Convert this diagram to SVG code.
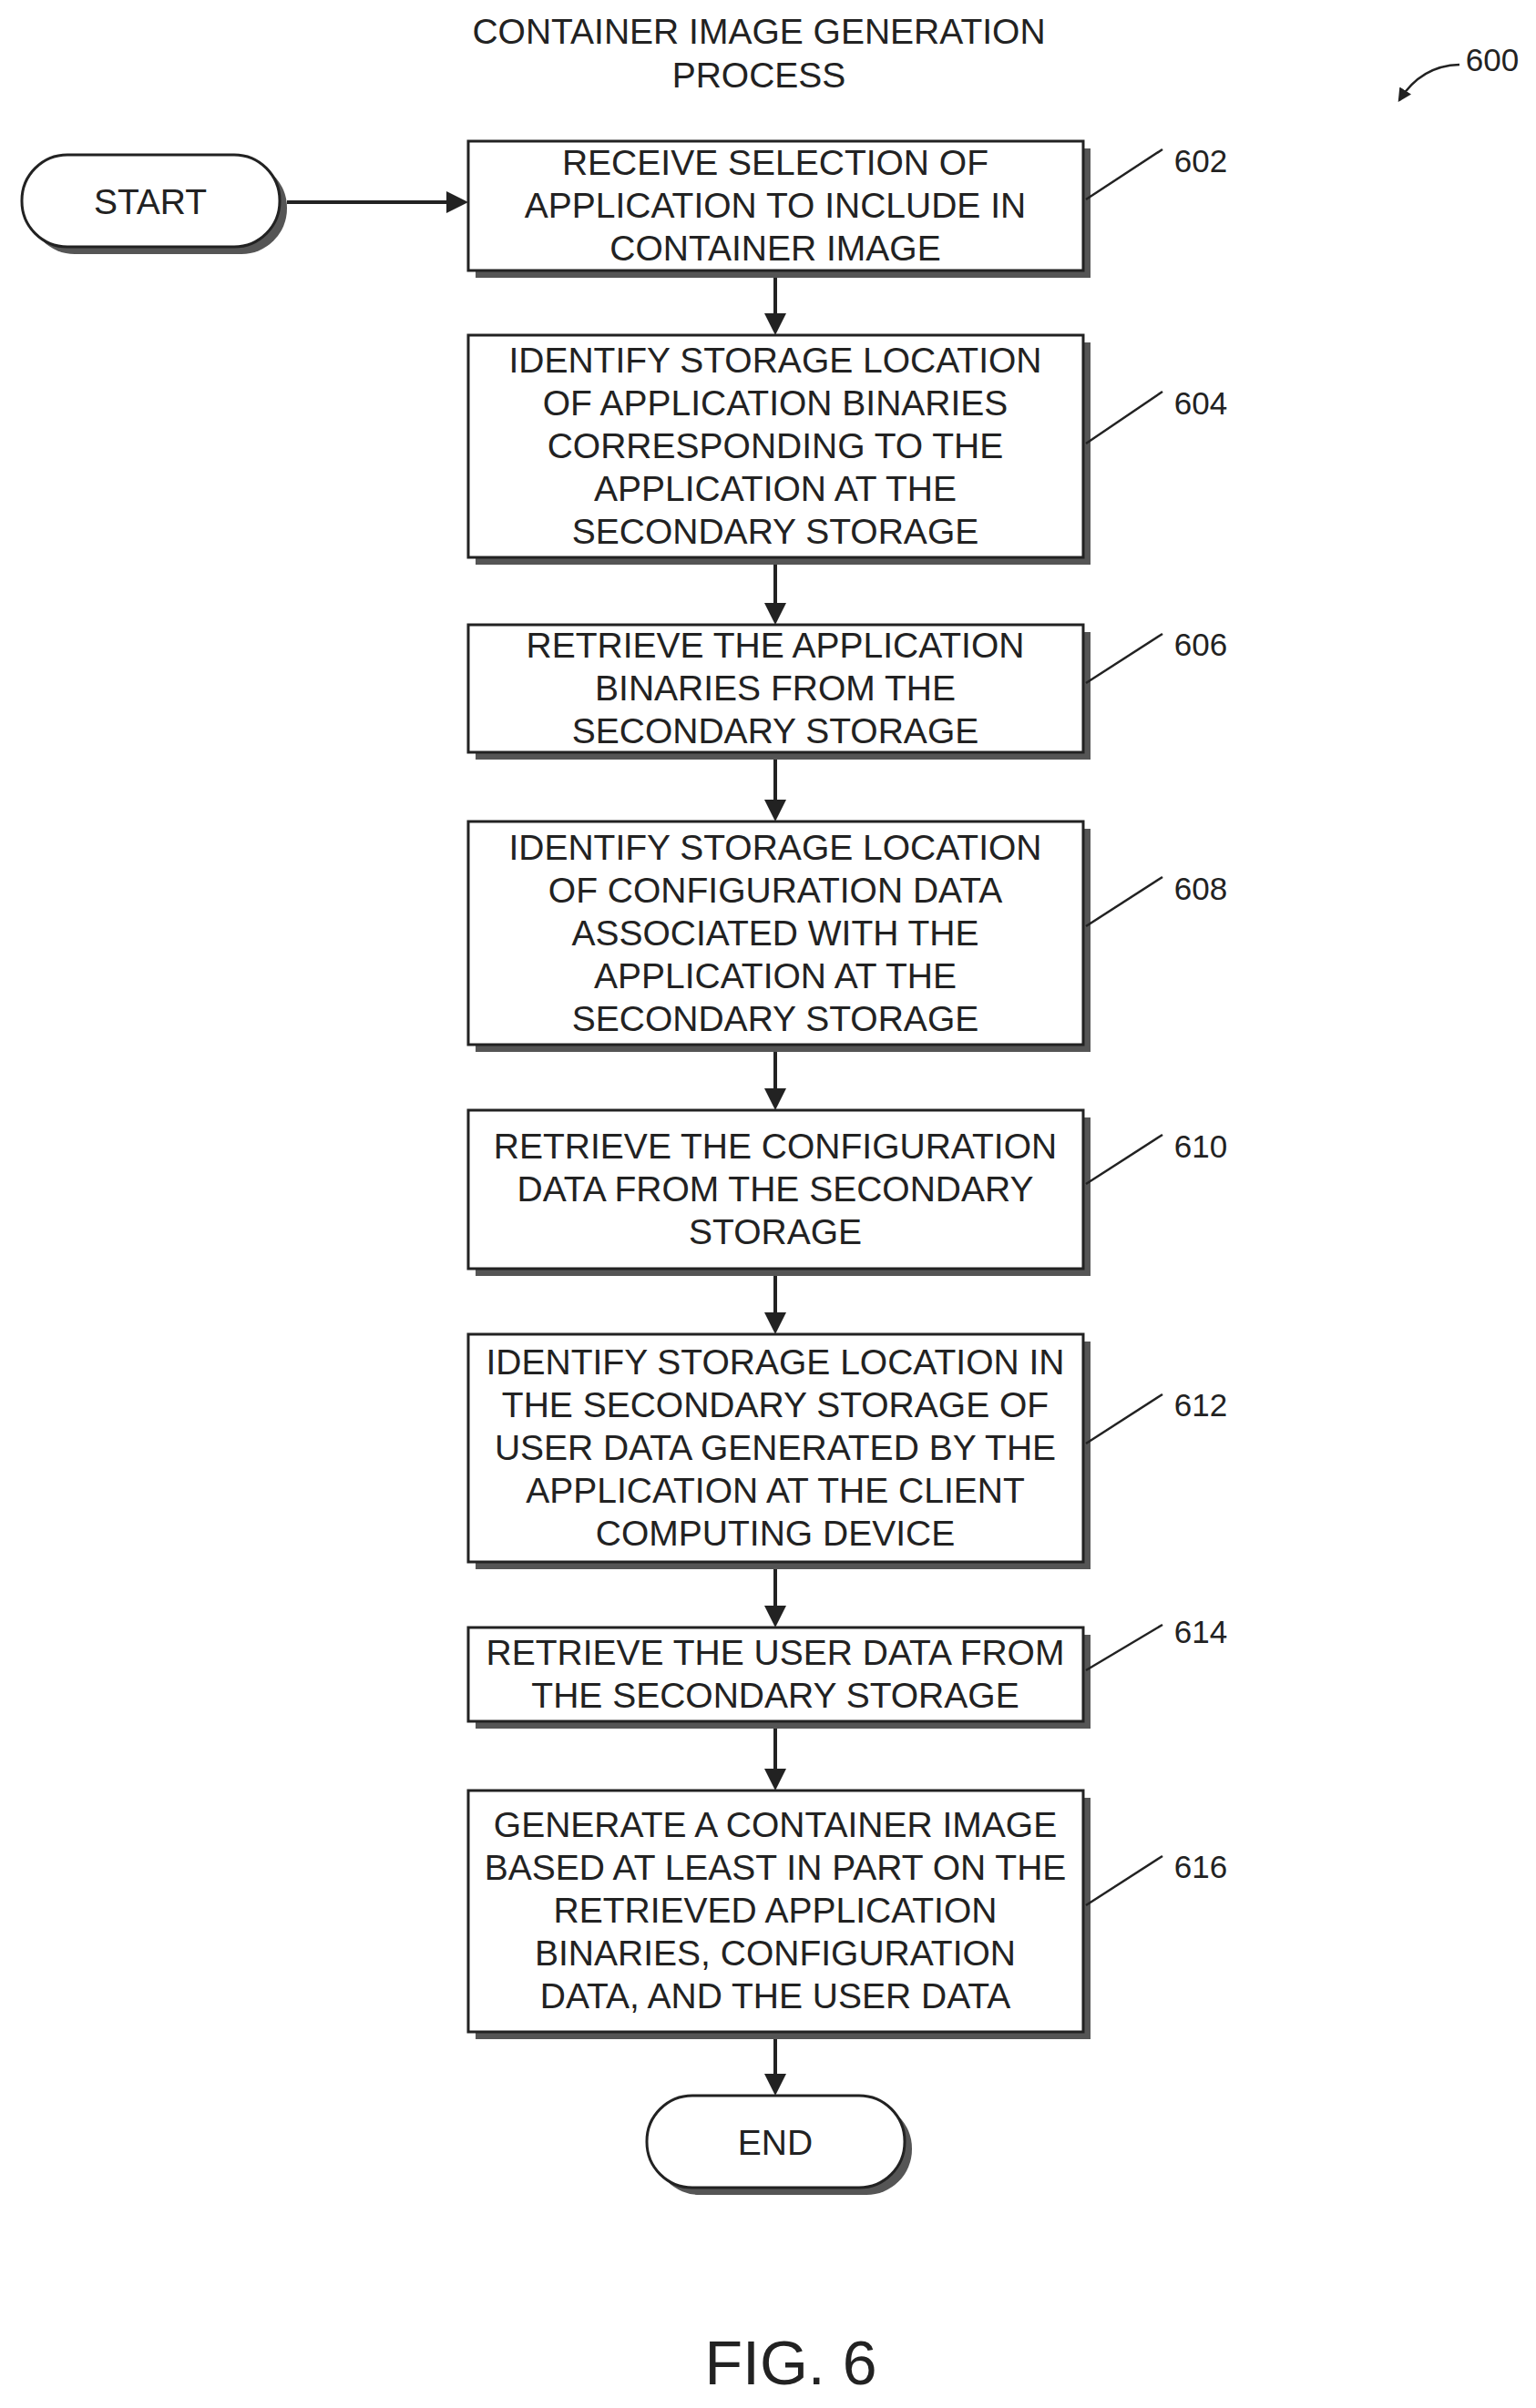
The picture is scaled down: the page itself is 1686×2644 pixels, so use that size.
<svg xmlns="http://www.w3.org/2000/svg" width="1686" height="2644" viewBox="0 0 1686 2644">
<defs>
<style>
.t{font-family:"Liberation Sans",Arial,sans-serif;font-size:39px;fill:#222;text-anchor:middle}
.n{font-family:"Liberation Sans",Arial,sans-serif;font-size:35px;fill:#222;text-anchor:middle}
.b{fill:#fff;stroke:#222;stroke-width:3}
.s{fill:#555}
.c{stroke:#222;stroke-width:4;fill:none}
.l{stroke:#222;stroke-width:2.5;fill:none}
</style>
<marker id="a" markerWidth="6" markerHeight="6" refX="5" refY="3" orient="auto" markerUnits="strokeWidth"><path d="M0,0L6,3L0,6z" fill="#222"/></marker>
</defs>
<rect width="1686" height="2644" fill="#fff"/>
<text class="t" x="833" y="48">CONTAINER IMAGE GENERATION</text>
<text class="t" x="833" y="96">PROCESS</text>
<text class="n" x="1638" y="78">600</text>
<path class="l" d="M1602,71 Q1560,72 1536,110" marker-end="url(#a)"/>
<g id="start"><rect class="s" x="32" y="178" width="283" height="101" rx="50"/><rect class="b" x="24" y="170" width="283" height="101" rx="50"/><text class="t" x="165" y="235">START</text></g>
<g id="n602"><rect class="s" x="522" y="163" width="675" height="142"/><rect class="b" x="514" y="155" width="675" height="142"/><text class="t" x="851" y="192">RECEIVE SELECTION OF</text><text class="t" x="851" y="239">APPLICATION TO INCLUDE IN</text><text class="t" x="851" y="286">CONTAINER IMAGE</text></g>
<g id="n604"><rect class="s" x="522" y="376" width="675" height="244"/><rect class="b" x="514" y="368" width="675" height="244"/><text class="t" x="851" y="409">IDENTIFY STORAGE LOCATION</text><text class="t" x="851" y="456">OF APPLICATION BINARIES</text><text class="t" x="851" y="503">CORRESPONDING TO THE</text><text class="t" x="851" y="550">APPLICATION AT THE</text><text class="t" x="851" y="597">SECONDARY STORAGE</text></g>
<g id="n606"><rect class="s" x="522" y="694" width="675" height="140"/><rect class="b" x="514" y="686" width="675" height="140"/><text class="t" x="851" y="722">RETRIEVE THE APPLICATION</text><text class="t" x="851" y="769">BINARIES FROM THE</text><text class="t" x="851" y="816">SECONDARY STORAGE</text></g>
<g id="n608"><rect class="s" x="522" y="910" width="675" height="245"/><rect class="b" x="514" y="902" width="675" height="245"/><text class="t" x="851" y="944">IDENTIFY STORAGE LOCATION</text><text class="t" x="851" y="991">OF CONFIGURATION DATA</text><text class="t" x="851" y="1038">ASSOCIATED WITH THE</text><text class="t" x="851" y="1085">APPLICATION AT THE</text><text class="t" x="851" y="1132">SECONDARY STORAGE</text></g>
<g id="n610"><rect class="s" x="522" y="1227" width="675" height="174"/><rect class="b" x="514" y="1219" width="675" height="174"/><text class="t" x="851" y="1272">RETRIEVE THE CONFIGURATION</text><text class="t" x="851" y="1319">DATA FROM THE SECONDARY</text><text class="t" x="851" y="1366">STORAGE</text></g>
<g id="n612"><rect class="s" x="522" y="1473" width="675" height="250"/><rect class="b" x="514" y="1465" width="675" height="250"/><text class="t" x="851" y="1509">IDENTIFY STORAGE LOCATION IN</text><text class="t" x="851" y="1556">THE SECONDARY STORAGE OF</text><text class="t" x="851" y="1603">USER DATA GENERATED BY THE</text><text class="t" x="851" y="1650">APPLICATION AT THE CLIENT</text><text class="t" x="851" y="1697">COMPUTING DEVICE</text></g>
<g id="n614"><rect class="s" x="522" y="1795" width="675" height="103"/><rect class="b" x="514" y="1787" width="675" height="103"/><text class="t" x="851" y="1828">RETRIEVE THE USER DATA FROM</text><text class="t" x="851" y="1875">THE SECONDARY STORAGE</text></g>
<g id="n616"><rect class="s" x="522" y="1974" width="675" height="265"/><rect class="b" x="514" y="1966" width="675" height="265"/><text class="t" x="851" y="2017">GENERATE A CONTAINER IMAGE</text><text class="t" x="851" y="2064">BASED AT LEAST IN PART ON THE</text><text class="t" x="851" y="2111">RETRIEVED APPLICATION</text><text class="t" x="851" y="2158">BINARIES, CONFIGURATION</text><text class="t" x="851" y="2205">DATA, AND THE USER DATA</text></g>
<g id="end"><rect class="s" x="718" y="2309" width="283" height="101" rx="50"/><rect class="b" x="710" y="2301" width="283" height="101" rx="50"/><text class="t" x="851" y="2366">END</text></g>
<g id="labels">
<text class="n" x="1318" y="189">602</text><path class="l" d="M1192,219L1276,164"/>
<text class="n" x="1318" y="455">604</text><path class="l" d="M1192,487L1276,430"/>
<text class="n" x="1318" y="720">606</text><path class="l" d="M1192,750L1276,696"/>
<text class="n" x="1318" y="988">608</text><path class="l" d="M1192,1017L1276,963"/>
<text class="n" x="1318" y="1271">610</text><path class="l" d="M1192,1300L1276,1246"/>
<text class="n" x="1318" y="1555">612</text><path class="l" d="M1192,1585L1276,1531"/>
<text class="n" x="1318" y="1804">614</text><path class="l" d="M1192,1834L1276,1784"/>
<text class="n" x="1318" y="2062">616</text><path class="l" d="M1192,2092L1276,2038"/>
</g>
<g id="connectors">
<path class="c" d="M315,222H510" marker-end="url(#a)"/>
<path class="c" d="M851,305V364" marker-end="url(#a)"/>
<path class="c" d="M851,620V682" marker-end="url(#a)"/>
<path class="c" d="M851,834V898" marker-end="url(#a)"/>
<path class="c" d="M851,1155V1215" marker-end="url(#a)"/>
<path class="c" d="M851,1401V1461" marker-end="url(#a)"/>
<path class="c" d="M851,1723V1783" marker-end="url(#a)"/>
<path class="c" d="M851,1898V1962" marker-end="url(#a)"/>
<path class="c" d="M851,2239V2297" marker-end="url(#a)"/>
</g>
<text x="868" y="2618" style="font-family:'Liberation Sans',Arial,sans-serif;font-size:68px;fill:#222;text-anchor:middle">FIG. 6</text>
</svg>
